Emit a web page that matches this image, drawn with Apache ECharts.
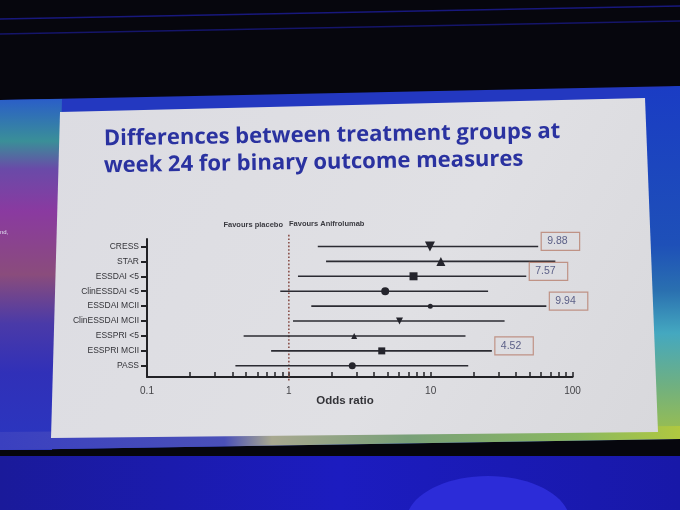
<!DOCTYPE html>
<html>
<head>
<meta charset="utf-8">
<script src="https://cdn.jsdelivr.net/npm/echarts@6/dist/echarts.min.js"></script>
<style>
html, body { margin: 0; padding: 0; background: #06060d; }
#main { width: 680px; height: 510px; }
</style>
</head>
<body>
<div id="main"></div>
<script>
// forest plot: odds ratio with 95% CI
var categories = ['CRESS', 'STAR', 'ESSDAI <5', 'ClinESSDAI <5', 'ESSDAI MCII',
    'ClinESSDAI MCII', 'ESSPRI <5', 'ESSPRI MCII', 'PASS'];
var oddsRatio = [9.88, 11.8, 7.57, 4.78, 9.94, 6.03, 2.89, 4.52, 2.80];
var ciLower = [1.60, 1.83, 1.16, 0.87, 1.44, 1.07, 0.48, 0.75, 0.42];
var ciUpper = [57.3, 75.7, 47.2, 25.4, 65.4, 33.2, 17.6, 27.0, 18.4];
var boxedRows = [0, 2, 4, 7];
var xLabelValues = [0.1, 1, 10, 100];
var xTickValues = [0.1, 0.2, 0.3, 0.4, 0.5, 0.6, 0.7, 0.8, 0.9,
    1, 2, 3, 4, 5, 6, 7, 8, 9,
    10, 20, 30, 40, 50, 60, 70, 80, 90, 100];
var noEffect = 1;

var myChart = echarts.init(document.getElementById('main'));

// marker shape per row (style only)
var markers = [
    { symbol: 'triangle', symbolRotate: 180, symbolSize: 10 },
    { symbol: 'triangle', symbolSize: 9 },
    { symbol: 'rect', symbolSize: 8 },
    { symbol: 'circle', symbolSize: 8 },
    { symbol: 'circle', symbolSize: 5 },
    { symbol: 'triangle', symbolRotate: 180, symbolSize: 7 },
    { symbol: 'triangle', symbolSize: 6 },
    { symbol: 'rect', symbolSize: 7 },
    { symbol: 'circle', symbolSize: 7 }
];

var rowIndex = categories.map(function (c, i) { return i; });

var pointData = categories.map(function (c, i) {
    return Object.assign({ name: c, value: [oddsRatio[i], i] }, markers[i]);
});
var ciData = categories.map(function (c, i) {
    return [ciLower[i], ciUpper[i], i];
});
var boxData = boxedRows.map(function (i) {
    return [ciUpper[i], i, oddsRatio[i]];
});

var sans = '"Liberation Sans", Arial, sans-serif';
var titleFont = 'bold 22px "Open Sans", Lato, sans-serif';

var option = {
    backgroundColor: '#06060d',
    animation: false,
    graphic: [
        // the photographed room / screen behind the slide
        { type: 'line', z: -20, shape: { x1: 0, y1: 19, x2: 680, y2: 6 },
          style: { stroke: '#2424c8', lineWidth: 1.5, opacity: 0.6 } },
        { type: 'line', z: -20, shape: { x1: 0, y1: 34, x2: 680, y2: 21 },
          style: { stroke: '#2424c8', lineWidth: 1.5, opacity: 0.5 } },
        { type: 'polygon', z: -19, shape: { points: [[0, 100], [680, 86], [680, 439], [0, 450]] },
          style: { fill: '#2338c0' } },
        { type: 'polygon', z: -18, shape: { points: [[0, 100], [62, 99], [52, 450], [0, 450]] },
          style: { fill: new echarts.graphic.LinearGradient(0, 0, 0, 1, [
              { offset: 0, color: '#2a5ec8' },
              { offset: 0.12, color: '#3a8f98' },
              { offset: 0.2, color: '#6a4aa8' },
              { offset: 0.32, color: '#8a3aa0' },
              { offset: 0.5, color: '#8a4c7c' },
              { offset: 0.64, color: '#4a3aa8' },
              { offset: 0.78, color: '#3030b8' },
              { offset: 1, color: '#2a36c0' }
          ]) } },
        { type: 'polygon', z: -18, shape: { points: [[640, 90], [680, 86], [680, 439], [640, 439]] },
          style: { fill: new echarts.graphic.LinearGradient(0, 0, 0, 1, [
              { offset: 0, color: '#1a3cc4' },
              { offset: 0.45, color: '#1e50b8' },
              { offset: 0.58, color: '#2a70b0' },
              { offset: 0.7, color: '#44a8c0' },
              { offset: 0.85, color: '#70b080' },
              { offset: 1, color: '#a0c048' }
          ]) } },
        { type: 'polygon', z: -17, shape: { points: [[0, 432], [680, 426], [680, 439], [0, 450]] },
          style: { fill: new echarts.graphic.LinearGradient(0, 0, 1, 0, [
              { offset: 0, color: '#3a40c0' },
              { offset: 0.33, color: '#4a50b8' },
              { offset: 0.4, color: '#a8a890' },
              { offset: 0.6, color: '#78a078' },
              { offset: 0.85, color: '#8ab860' },
              { offset: 1, color: '#b0c840' }
          ]) } },
        { type: 'rect', z: -19, shape: { x: 0, y: 456, width: 680, height: 54 },
          style: { fill: new echarts.graphic.LinearGradient(0, 0, 1, 0, [
              { offset: 0, color: '#1a1a9a' },
              { offset: 0.5, color: '#1c1cc0' },
              { offset: 1, color: '#1818a8' }
          ]) } },
        { type: 'ellipse', z: -18, shape: { cx: 488, cy: 522, rx: 82, ry: 46 },
          style: { fill: '#2c2cd8' } },
        { type: 'text', z: -16, left: 0, top: 229,
          style: { text: 'nd,', fill: '#e0e0f0', font: '6px ' + sans } },
        // slide panel
        { type: 'polygon', z: -15, shape: { points: [[60, 112], [645, 98], [658, 432], [51, 438]] },
          style: { fill: new echarts.graphic.LinearGradient(0, 0, 1, 1, [
              { offset: 0, color: '#dcdce2' },
              { offset: 0.6, color: '#e0e0e4' },
              { offset: 1, color: '#d8d8dc' }
          ]) } },
        // slide title
        { type: 'text', z: 10, x: 104, y: 150, rotation: 0.016,
          style: { text: 'Differences between treatment groups at', fill: '#2a32a0',
                   font: titleFont, textVerticalAlign: 'bottom' } },
        { type: 'text', z: 10, x: 104, y: 177, rotation: 0.016,
          style: { text: 'week 24 for binary outcome measures', fill: '#2a32a0',
                   font: titleFont, textVerticalAlign: 'bottom' } },
        { type: 'text', z: 10, x: 283, y: 225,
          style: { text: 'Favours placebo', fill: '#3a3a40', font: 'bold 7.5px ' + sans,
                   textAlign: 'right', textVerticalAlign: 'middle' } },
        { type: 'text', z: 10, x: 289, y: 224,
          style: { text: 'Favours Anifrolumab', fill: '#3a3a40', font: 'bold 7.5px ' + sans,
                   textAlign: 'left', textVerticalAlign: 'middle' } },
        { type: 'text', z: 10, x: 345, y: 401,
          style: { text: 'Odds ratio', fill: '#333338', font: 'bold 11.5px ' + sans,
                   textAlign: 'center', textVerticalAlign: 'middle' } }
    ],
    grid: { left: 147, right: 107.5, top: 239, height: 138, containLabel: false },
    xAxis: {
        type: 'log',
        logBase: 10,
        min: 0.1,
        max: 100,
        position: 'bottom',
        axisLine: { show: true, onZero: false, lineStyle: { color: '#222226', width: 2 } },
        axisTick: { show: true, inside: true, length: 5, customValues: xTickValues,
                    lineStyle: { color: '#222226', width: 1.5 } },
        axisLabel: { customValues: xLabelValues, fontSize: 10, color: '#444448',
                     fontFamily: sans, margin: 9,
                     formatter: function (v) { return String(v); } },
        splitLine: { show: false },
        minorTick: { show: false }
    },
    yAxis: {
        type: 'value',
        inverse: true,
        min: -0.5,
        max: 8.75,
        axisLine: { show: true, onZero: false, lineStyle: { color: '#222226', width: 2 } },
        axisTick: { show: true, inside: false, length: 6, customValues: rowIndex,
                    lineStyle: { color: '#222226', width: 2 } },
        axisLabel: { customValues: rowIndex, fontSize: 8.5, color: '#333338',
                     fontFamily: sans, margin: 8,
                     formatter: function (v) { return categories[v] || ''; } },
        splitLine: { show: false }
    },
    series: [
        {
            type: 'custom',
            name: 'no effect',
            clip: false,
            silent: true,
            data: [[noEffect, -0.78, 9.0]],
            encode: { x: 0, y: [1, 2] },
            renderItem: function (params, api) {
                var a = api.coord([api.value(0), api.value(1)]);
                var b = api.coord([api.value(0), api.value(2)]);
                return { type: 'line', shape: { x1: a[0], y1: a[1], x2: b[0], y2: b[1] },
                         style: { stroke: '#8a5048', lineWidth: 1.6, lineDash: [1.6, 2] } };
            },
            z: 1
        },
        {
            type: 'custom',
            name: '95% CI',
            silent: true,
            data: ciData,
            encode: { x: [0, 1], y: 2 },
            renderItem: function (params, api) {
                var a = api.coord([api.value(0), api.value(2)]);
                var b = api.coord([api.value(1), api.value(2)]);
                return { type: 'line', shape: { x1: a[0], y1: a[1], x2: b[0], y2: b[1] },
                         style: { stroke: '#2b2b32', lineWidth: 1.6 } };
            },
            z: 2
        },
        {
            type: 'scatter',
            name: 'Odds ratio',
            data: pointData,
            itemStyle: { color: '#24242c', opacity: 1 },
            z: 3
        },
        {
            type: 'scatter',
            name: 'labels',
            data: boxData,
            symbolSize: 0,
            silent: true,
            label: {
                show: true,
                position: 'right',
                distance: 3,
                offset: [0, -5],
                formatter: function (p) { return p.value[2].toFixed(2); },
                fontFamily: sans,
                fontSize: 10.5,
                lineHeight: 12,
                color: '#3b4070',
                borderColor: '#b8806e',
                borderWidth: 1.2,
                padding: [3, 12, 3, 6]
            },
            z: 4
        }
    ]
};

myChart.setOption(option);
</script>
</body>
</html>
